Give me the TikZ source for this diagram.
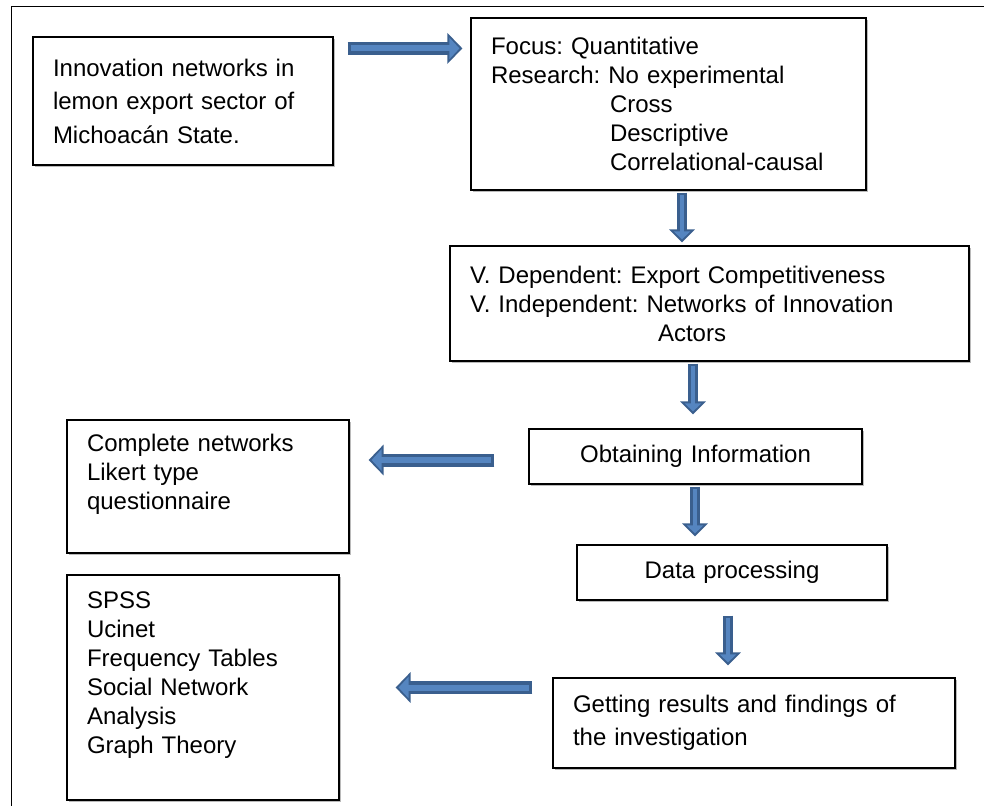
\documentclass[tikz,border=0pt]{standalone}
\usepackage{fontspec}
\setmainfont{Liberation Sans}
\frenchspacing
\usetikzlibrary{arrows.meta,shadows}
\definecolor{arrowdark}{HTML}{3A5F8E}
\definecolor{arrowlight}{HTML}{5585C0}
\tikzset{
  box/.style={draw, line width=1.2pt, fill=white, inner xsep=20pt, inner ysep=3pt,
    align=left, font=\fontsize{24}{29}\selectfont,
    drop shadow={shadow xshift=1.5pt, shadow yshift=-1.5pt, fill=black!45, opacity=0.6}},
  hflow/.style={draw=arrowlight, line width=6pt, shorten <=3pt, shorten >=3pt,
    -{Triangle[length=10pt,width=21pt]},
    preaction={draw=arrowdark, line width=13pt, shorten <=0pt, shorten >=0pt,
      -{Triangle[length=15pt,width=30pt]}}},
  vflow/.style={draw=arrowlight, line width=4pt, shorten <=2.5pt, shorten >=3pt,
    -{Triangle[length=8pt,width=16pt]},
    preaction={draw=arrowdark, line width=10pt, shorten <=0pt, shorten >=0pt,
      -{Triangle[length=13pt,width=25pt]}}}
}
\begin{document}
\begin{tikzpicture}[x=1pt,y=-1pt]
    \useasboundingbox (0,0) rectangle (984,806);

    % Outer frame (top and left edges only)
    \draw[line width=1pt] (984,6) -- (11,6) -- (11,806);

    % Boxes of the methodology
    \node[box, minimum width=300pt, minimum height=128pt, text width=260pt,
      font=\fontsize{24}{33.5}\selectfont] (topic) at (183,101)
      {Innovation networks in\\ lemon export sector of\\ Michoac\'an State.};
    \node[box, minimum width=395pt, minimum height=172pt, text width=355pt] (design) at (668.5,104)
      {Focus: Quantitative\\ Research: No experimental\\ \hspace*{119pt}Cross\\
       \hspace*{119pt}Descriptive\\ \hspace*{119pt}Correlational-causal};
    \node[box, minimum width=519pt, minimum height=115pt, text width=479pt] (variables) at (709.5,303.5)
      {V. Dependent: Export Competitiveness\\ V. Independent: Networks of Innovation\\
       \hspace*{188pt}Actors};
    \node[box, minimum width=333pt, minimum height=55pt, text width=293pt, align=center] (obtain) at (695.5,456.5)
      {Obtaining Information};
    \node[box, minimum width=282pt, minimum height=133pt, text width=242pt] (questionnaire) at (208,486.5)
      {Complete networks\\ Likert type\\ questionnaire\\ \mbox{}};
    \node[box, minimum width=310pt, minimum height=55pt, text width=270pt, align=center] (processing) at (732,572.5)
      {Data processing};
    \node[box, minimum width=272pt, minimum height=225pt, text width=232pt] (tools) at (203,687.5)
      {SPSS\\ Ucinet\\ Frequency Tables\\ Social Network\\ Analysis\\ Graph Theory\\ \mbox{}};
    \node[box, minimum width=402pt, minimum height=90pt, text width=362pt,
      font=\fontsize{24}{33}\selectfont] (results) at (754,723)
      {Getting results and findings of\\ the investigation};

    % Block arrows
    \draw[hflow] ([xshift=14pt,yshift=-12pt]topic.north east) -- ([xshift=-8pt,yshift=-31pt]design.north west);
    \draw[vflow] ([xshift=13.5pt,yshift=-2pt]design.south) -- ([xshift=-27.5pt,yshift=3pt]variables.north);
    \draw[vflow] ([xshift=-16.5pt,yshift=-2pt]variables.south) -- ([xshift=-2.5pt,yshift=14pt]obtain.north);
    \draw[hflow] ([xshift=-34pt,yshift=-3.5pt]obtain.west) -- ([xshift=19pt,yshift=26.5pt]questionnaire.east);
    \draw[vflow] ([xshift=-0.5pt,yshift=-2pt]obtain.south) -- ([xshift=-37pt,yshift=8pt]processing.north);
    \draw[vflow] ([xshift=-4pt,yshift=-15pt]processing.south) -- ([xshift=-26pt,yshift=12pt]results.north);
    \draw[hflow] ([xshift=-20pt,yshift=35.5pt]results.west) -- ([xshift=56pt]tools.east);
\end{tikzpicture}
\end{document}
